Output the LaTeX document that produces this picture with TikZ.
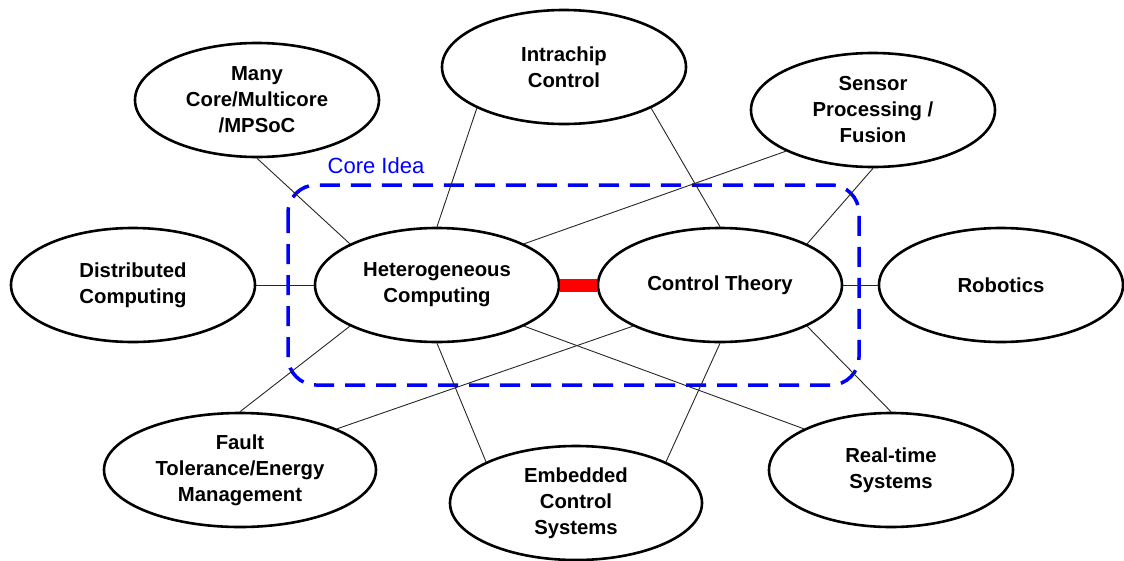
\documentclass[tikz,border=0pt]{standalone}
\usepackage{fontspec}
\setmainfont{Liberation Sans}
\usetikzlibrary{shapes.geometric}
\begin{document}
\begin{tikzpicture}[x=1pt,y=-1pt,
  topic/.style={ellipse, draw, fill=white, line width=2.6pt,
    minimum width=244pt, minimum height=114pt, inner sep=0pt,
    align=center, font=\bfseries\fontsize{20.3}{26}\selectfont},
  link/.style={line width=0.9pt, black!85},
  bridge/.style={red, line width=13pt},
  corebox/.style={blue, line width=3.5pt, dash pattern=on 20pt off 11pt, rounded corners=28pt}]
\useasboundingbox (0,0) rectangle (1124,560);

% core idea frame
\draw[corebox] (288,185) rectangle (859,385);
\node[blue, font=\fontsize{22}{26}\selectfont] (label) at (376,166) {Core Idea};

% topics
\node[topic] (many)   at (257,100) {Many\\Core/Multicore\\/MPSoC};
\node[topic] (intra)  at (564,67)  {Intrachip\\Control};
\node[topic] (sensor) at (873,110) {Sensor\\Processing /\\Fusion};
\node[topic] (dist)   at (133,285) {Distributed\\Computing};
\node[topic] (het)    at (437,285) {Heterogeneous\\Computing};
\node[topic] (ctrl)   at (720,285) {Control Theory};
\node[topic] (robot)  at (1001,285) {Robotics};
\node[topic, minimum width=272pt] (fault)  at (240,470) {Fault\\Tolerance/Energy\\Management};
\node[topic, minimum width=252pt] (embed)  at (576,503) {Embedded\\Control\\Systems};
\node[topic] (rt)     at (891,470) {Real-time\\Systems};

% connections between anchor points
\draw[link] (many.south) -- (het.north west);
\draw[link] (intra.south west) -- (het.north);
\draw[link] (intra.south east) -- (ctrl.north);
\draw[link] (sensor.south west) -- (het.north east);
\draw[link] (sensor.south) -- (ctrl.north east);
\draw[link] (dist.east) -- (het.west);
\draw[link] (ctrl.east) -- (robot.west);
\draw[link] (het.south west) -- (fault.north);
\draw[link] (ctrl.south west) -- (fault.north east);
\draw[link] (het.south) -- (embed.north west);
\draw[link] (ctrl.south) -- (embed.north east);
\draw[link] (het.south east) -- (rt.north west);
\draw[link] (ctrl.south east) -- (rt.north);
\draw[bridge] (het.east) -- (ctrl.west);
\end{tikzpicture}
\end{document}
